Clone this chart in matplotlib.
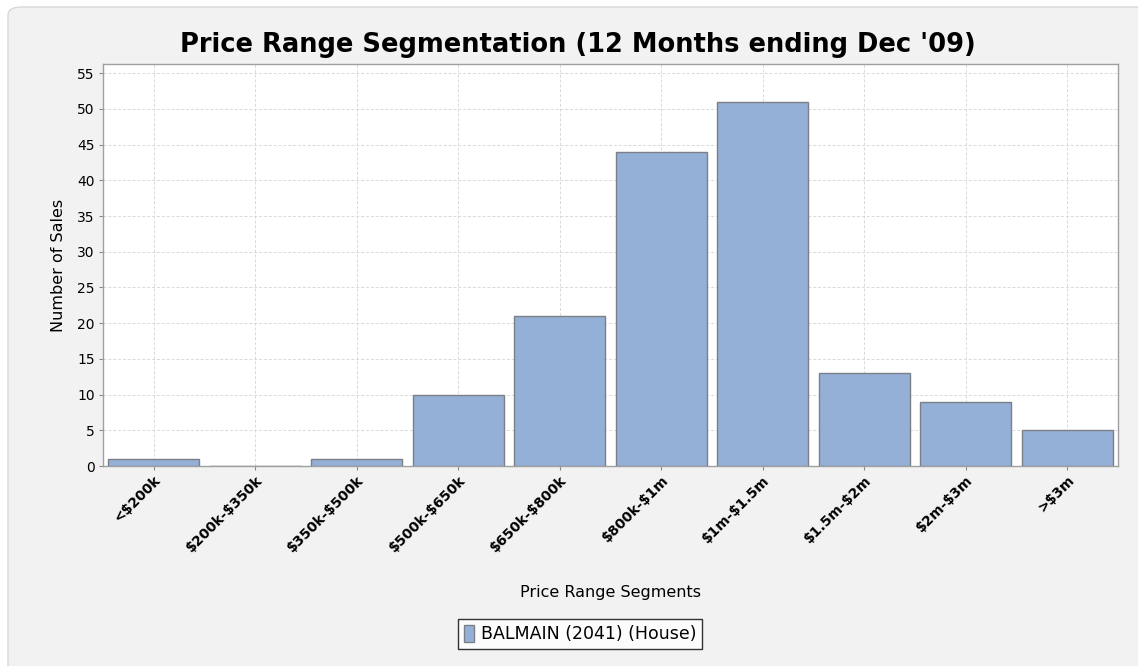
import matplotlib.pyplot as plt
from matplotlib.patches import FancyBboxPatch
import numpy as np

plt.rcParams['text.parse_math'] = False

segments = ['<$200k', '$200k-$350k', '$350k-$500k', '$500k-$650k', '$650k-$800k',
            '$800k-$1m', '$1m-$1.5m', '$1.5m-$2m', '$2m-$3m', '>$3m']
sales = [1, 0, 1, 10, 21, 44, 51, 13, 9, 5]
series_name = 'BALMAIN (2041) (House)'

bar_color = '#95b0d6'
edge_color = '#7a7f88'

fig = plt.figure(figsize=(11.38, 6.66), dpi=100, facecolor='white')

# rounded panel behind the chart
panel = FancyBboxPatch((8 / 1138, -0.05), 1.2, 1 - 7 / 666 + 0.05,
                       boxstyle='round,pad=0,rounding_size=0.012',
                       transform=fig.transFigure, facecolor='#f2f2f2',
                       edgecolor='#d8d8d8', linewidth=1.0, zorder=-10)
fig.patches.append(panel)

ax = fig.add_axes([103 / 1138, 1 - 466 / 666, (1118 - 103) / 1138, (466 - 64) / 666])
ax.set_facecolor('white')

x = np.arange(len(segments))
ax.bar(x, sales, width=0.9, color=bar_color, edgecolor=edge_color, linewidth=1.0,
       label=series_name, zorder=3)

ax.set_xlim(-0.5, len(segments) - 0.5)
ax.set_ylim(0, 56.3)
ax.set_yticks(np.arange(0, 56, 5))
ax.set_xticks(x)
ax.set_xticklabels(segments, rotation=45, ha='right', rotation_mode='anchor',
                   fontsize=10, fontweight='semibold')
ax.tick_params(axis='y', labelsize=10, length=3, color='#888888', pad=3)
ax.tick_params(axis='x', length=3, color='#888888', pad=2)

ax.grid(True, color='#d9d9d9', linestyle=(0, (3, 2)), linewidth=0.7, zorder=0)
for s in ax.spines.values():
    s.set_color('#a0a0a0')
    s.set_linewidth(1.0)

ax.set_ylabel('Number of Sales', fontsize=11.5, labelpad=8)
fig.text(610 / 1138, 1 - 592 / 666, 'Price Range Segments', ha='center', va='center',
         fontsize=11.5)
fig.text(578 / 1138, 1 - 45 / 666, "Price Range Segmentation (12 Months ending Dec '09)",
         ha='center', va='center', fontsize=18.5, fontweight='bold')

leg = fig.legend(loc='center', bbox_to_anchor=(580 / 1138, 1 - 634 / 666),
                 fontsize=12.5, frameon=True, fancybox=False, handlelength=0.6,
                 handleheight=1.2, handletextpad=0.4, borderpad=0.3,
                 borderaxespad=0)
leg.get_frame().set_edgecolor('black')
leg.get_frame().set_linewidth(1.0)

fig.savefig('out.png', dpi=100, facecolor=fig.get_facecolor())
